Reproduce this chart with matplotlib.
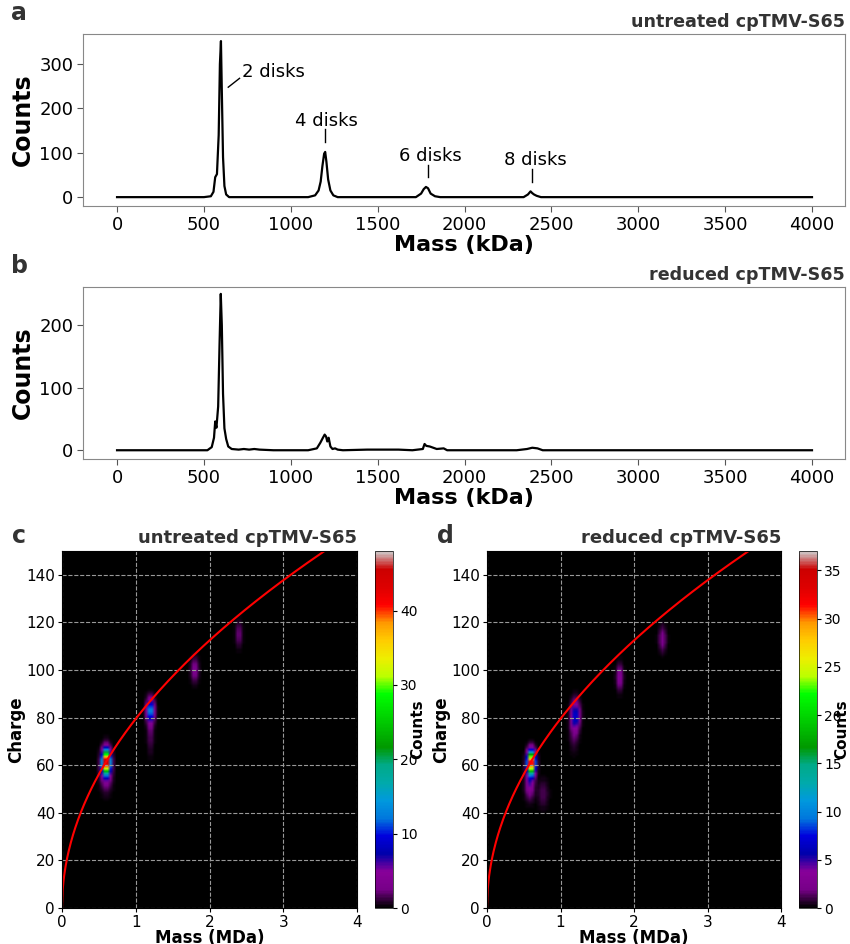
import numpy as np
import matplotlib
matplotlib.use("Agg")
import matplotlib.pyplot as plt

# mass spectra traces (kDa, counts)
mass_a = [0, 500, 540, 555, 565, 575, 585, 592, 598, 603, 610, 618, 628, 645, 1100, 1140, 1160, 1172,
          1182, 1192, 1198, 1205, 1215, 1228, 1245, 1270, 1720, 1750, 1765, 1778, 1790, 1805, 1830,
          1860, 2340, 2365, 2380, 2390, 2400, 2415, 2440, 4000]
counts_a = [0, 0, 2, 12, 45, 52, 140, 300, 352, 240, 90, 25, 6, 0, 0, 4, 15, 35, 70, 98, 102, 80,
            40, 15, 4, 0, 0, 8, 18, 23, 20, 8, 2, 0, 0, 6, 13, 9, 6, 3, 0, 0]

mass_b = [0, 520, 545, 558, 565, 572, 582, 590, 597, 603, 610, 618, 628, 640, 660, 700, 730, 760,
          790, 820, 900, 1100, 1150, 1170, 1185, 1195, 1203, 1210, 1218, 1228, 1240, 1255, 1270,
          1300, 1440, 1620, 1700, 1760, 1770, 1780, 1800, 1820, 1840, 1880, 1900, 2300, 2360,
          2390, 2420, 2450, 4000]
counts_b = [0, 0, 5, 20, 46, 36, 70, 170, 250, 200, 90, 35, 18, 6, 2, 1, 2, 1, 2, 1, 0, 0, 3, 12,
            20, 25, 22, 14, 20, 6, 2, 3, 1, 0, 1, 1, 0, 2, 10, 7, 6, 4, 2, 3, 0, 0, 2, 4, 3, 0, 0]

disk_labels = ["2 disks", "4 disks", "6 disks", "8 disks"]
disk_text_x = [720, 1206, 1806, 2406]
disk_text_y = [282, 171, 92, 83]
disk_line_x0 = [640, 1195, 1789, 2389]
disk_line_y0 = [248, 124, 45, 34]
disk_line_x1 = [705, 1195, 1789, 2389]
disk_line_y1 = [268, 153, 72, 63]

# 2D mass/charge histogram blobs: mass (MDa), charge, peak counts, widths
blob_mass_c = [0.60, 0.60, 1.20, 1.20, 1.80, 2.40]
blob_charge_c = [61.5, 58, 83, 74, 100, 115]
blob_amp_c = [48, 6, 14, 2, 3.5, 2.5]
blob_sm_c = [0.035, 0.05, 0.035, 0.03, 0.035, 0.03]
blob_sz_c = [3.2, 5, 3.2, 6, 3.5, 3.5]

blob_mass_d = [0.60, 0.58, 0.76, 1.20, 1.18, 1.80, 2.38]
blob_charge_d = [61, 52, 48, 81, 74, 97, 113]
blob_amp_d = [37, 4, 1.2, 7, 1.5, 3.5, 2.5]
blob_sm_d = [0.035, 0.04, 0.05, 0.04, 0.04, 0.03, 0.035]
blob_sz_d = [3.2, 4, 4, 4, 5, 3.5, 3.5]

vmax_c = 48
vmax_d = 37
fit_k = 79.5  # charge = k * sqrt(mass in MDa)

fig = plt.figure(figsize=(8.5, 9.44), dpi=100)
W, H = 850, 944


def box(l, t, r, b):
    return [l / W, 1 - b / H, (r - l) / W, (b - t) / H]


def spectrum(ax, x, y, ylim, yticks, title, letter):
    ax.plot(x, y, color="black", lw=1.6)
    ax.set_xlim(-196, 4190)
    ax.set_ylim(*ylim)
    ax.set_xticks(range(0, 4001, 500))
    ax.set_yticks(yticks)
    for s in ax.spines.values():
        s.set_color("#888888")
    ax.tick_params(labelsize=13, color="#555555", length=4, pad=3)
    ax.set_xlabel("Mass (kDa)", fontsize=16, fontweight="bold", labelpad=1)
    ax.set_ylabel("Counts", fontsize=17, fontweight="bold", labelpad=3)
    ax.set_title(title, loc="right", fontsize=12.6, fontweight="bold", color="#333333", pad=5)
    ax.text(-0.095, 1.19, letter, transform=ax.transAxes, fontsize=17, color="#333333",
            va="top", fontweight="bold")


ax_a = fig.add_axes(box(83, 34, 845, 206))
spectrum(ax_a, mass_a, counts_a, (-20, 368), [0, 100, 200, 300], "untreated cpTMV-S65", "a")
for i in range(len(disk_labels)):
    ax_a.plot([disk_line_x0[i], disk_line_x1[i]], [disk_line_y0[i], disk_line_y1[i]], color="black", lw=1)
    ha = "left" if i == 0 else "center"
    ax_a.text(disk_text_x[i], disk_text_y[i], disk_labels[i], ha=ha, va="center", fontsize=13)

ax_b = fig.add_axes(box(83, 287, 845, 459))
spectrum(ax_b, mass_b, counts_b, (-14, 261), [0, 100, 200], "reduced cpTMV-S65", "b")

mgrid = np.linspace(0, 4, 101)
zgrid = np.linspace(0, 150, 151)
MM, ZZ = np.meshgrid(0.5 * (mgrid[1:] + mgrid[:-1]), 0.5 * (zgrid[1:] + zgrid[:-1]))


def heat(ax, cax, ms, zs, amps, sms, szs, vmax, cticks, title, letter):
    img = np.zeros_like(MM)
    for m, z, a, sm, sz in zip(ms, zs, amps, sms, szs):
        img += a * np.exp(-0.5 * ((MM - m) / sm) ** 2 - 0.5 * ((ZZ - z) / sz) ** 2)
    im = ax.imshow(img, origin="lower", extent=[0, 4, 0, 150], aspect="auto", cmap="nipy_spectral",
                   vmin=0, vmax=vmax, interpolation="bilinear")
    xf = np.linspace(0, 4, 400)
    ax.plot(xf, fit_k * np.sqrt(xf), color="red", lw=1.5)
    ax.set_xlim(0, 4)
    ax.set_ylim(0, 150)
    ax.set_xticks([0, 1, 2, 3, 4])
    ax.set_yticks(range(0, 141, 20))
    ax.grid(True, color="#999999", ls="--", lw=0.8)
    ax.tick_params(labelsize=11, length=3, pad=2)
    ax.set_xlabel("Mass (MDa)", fontsize=12, fontweight="bold", labelpad=-1)
    ax.set_ylabel("Charge", fontsize=12, fontweight="bold", labelpad=1)
    ax.set_title(title, loc="right", fontsize=13, fontweight="bold", color="#333333", pad=6)
    ax.text(-0.17, 1.075, letter, transform=ax.transAxes, fontsize=17, fontweight="bold", color="#333333",
            va="top")
    cb = fig.colorbar(im, cax=cax, ticks=cticks)
    cb.ax.tick_params(labelsize=10, length=3, pad=2)
    cb.set_label("Counts", fontsize=11, fontweight="bold", labelpad=-5)
    cb.outline.set_linewidth(0.5)


ax_c = fig.add_axes(box(62, 551, 357, 908))
cax_c = fig.add_axes(box(375, 551, 393, 908))
heat(ax_c, cax_c, blob_mass_c, blob_charge_c, blob_amp_c, blob_sm_c, blob_sz_c, vmax_c,
     [0, 10, 20, 30, 40], "untreated cpTMV-S65", "c")

ax_d = fig.add_axes(box(487, 551, 781, 908))
cax_d = fig.add_axes(box(799, 551, 817, 908))
heat(ax_d, cax_d, blob_mass_d, blob_charge_d, blob_amp_d, blob_sm_d, blob_sz_d, vmax_d,
     [0, 5, 10, 15, 20, 25, 30, 35], "reduced cpTMV-S65", "d")

fig.savefig("out.png", dpi=100)
